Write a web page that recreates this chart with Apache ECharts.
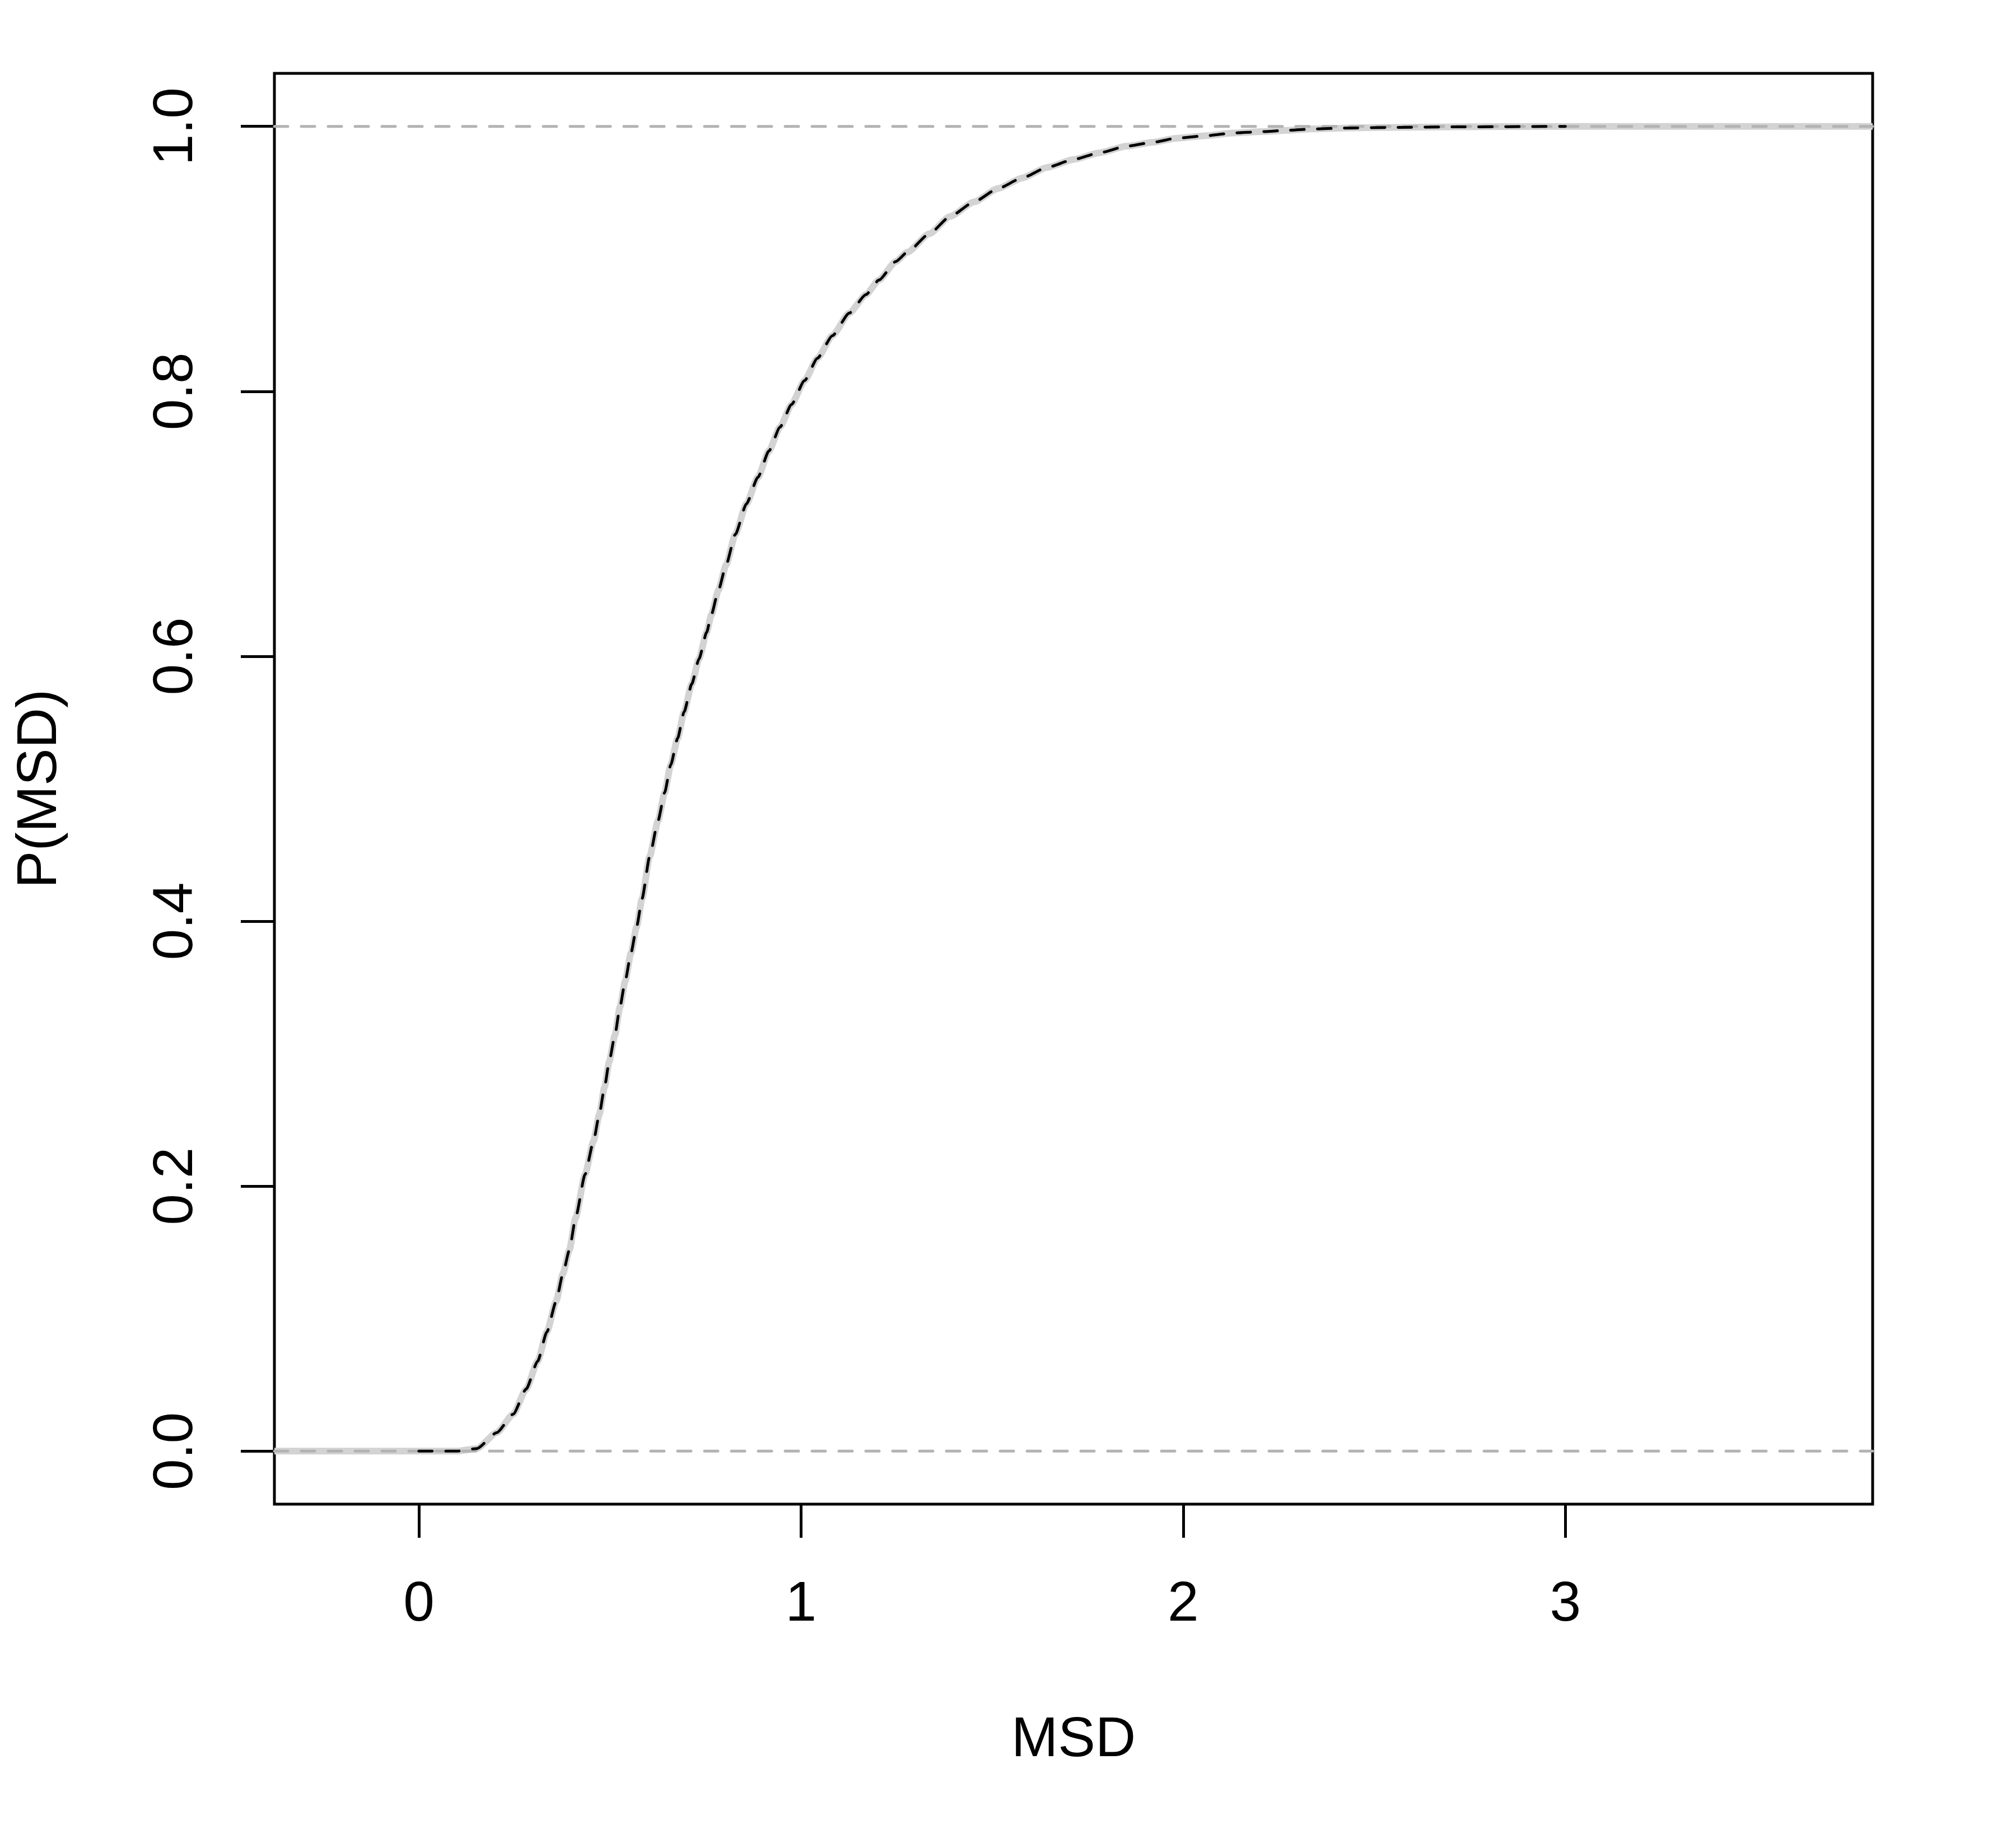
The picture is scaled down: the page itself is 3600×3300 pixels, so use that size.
<!DOCTYPE html>
<html>
<head>
<meta charset="utf-8">
<script src="https://cdn.jsdelivr.net/npm/echarts@6/dist/echarts.min.js"></script>
<style>
  html, body { margin: 0; padding: 0; background: #fff; }
  #chart { width: 3600px; height: 3300px; }
</style>
</head>
<body>
<div id="chart"></div>
<script>
// axis limits (R adds 4% each side)
const xMin = -0.378, xMax = 3.804;
const yMin = -0.04, yMax = 1.04;
const xTicks = [0, 1, 2, 3];
const yTicks = [0, 0.2, 0.4, 0.6, 0.8, 1.0];

// curve: MSD and P(MSD)
const msd = [0, 0.1, 0.152, 0.204, 0.247, 0.281, 0.311, 0.335, 0.359, 0.377, 0.394, 0.41, 0.435, 0.457, 0.472, 0.486,
  0.498, 0.513, 0.526, 0.54, 0.555, 0.57, 0.584, 0.604, 0.626, 0.643, 0.659, 0.677, 0.694, 0.714, 0.733, 0.753,
  0.765, 0.784, 0.804, 0.828, 0.857, 0.887, 0.916, 0.945, 0.975, 1.009, 1.043, 1.082, 1.126, 1.17, 1.204, 1.248,
  1.278, 1.336, 1.39, 1.453, 1.515, 1.578, 1.644, 1.713, 1.78, 1.852, 1.922, 1.981, 2.063, 2.13, 2.205, 2.272,
  2.34, 2.416, 2.55, 2.72, 3.0];
const prob = [0, 0, 0.002, 0.014, 0.028, 0.047, 0.068, 0.09, 0.113, 0.134, 0.152, 0.176, 0.209, 0.234, 0.254, 0.275,
  0.294, 0.314, 0.335, 0.355, 0.376, 0.396, 0.417, 0.449, 0.476, 0.497, 0.518, 0.538, 0.558, 0.579, 0.598, 0.618,
  0.631, 0.65, 0.669, 0.692, 0.715, 0.735, 0.755, 0.773, 0.79, 0.808, 0.825, 0.842, 0.859, 0.873, 0.884, 0.898,
  0.905, 0.919, 0.932, 0.943, 0.953, 0.961, 0.969, 0.975, 0.98, 0.985, 0.988, 0.991, 0.993, 0.995, 0.996, 0.997,
  0.998, 0.9987, 0.9992, 0.9996, 1.0];

const curve = msd.map((x, i) => [x, prob[i]]);
// empirical curve runs out to the plot edges
const ecdf = [[xMin, 0]].concat(curve, [[xMax, 1]]);

const font = '"Liberation Sans", Arial, sans-serif';
const chart = echarts.init(document.getElementById('chart'));

const dashed = (color) => ({ color: color, width: 5, type: [24, 24], cap: 'round' });

chart.setOption({
  animation: false,
  backgroundColor: '#fff',
  grid: {
    left: 490, right: 256, top: 131, bottom: 614,
    show: true, borderColor: '#000', borderWidth: 5, backgroundColor: 'transparent'
  },
  xAxis: {
    type: 'value', min: xMin, max: xMax,
    name: 'MSD', nameLocation: 'middle', nameGap: 372,
    nameTextStyle: { fontFamily: font, fontSize: 100, color: '#000' },
    axisLine: { show: false, onZero: false },
    splitLine: { show: false },
    axisTick: { show: true, length: 60, customValues: xTicks, lineStyle: { color: '#000', width: 5 } },
    axisLabel: { customValues: xTicks, margin: 130, fontFamily: font, fontSize: 100, color: '#000',
      formatter: v => String(v) }
  },
  yAxis: {
    type: 'value', min: yMin, max: yMax,
    name: 'P(MSD)', nameLocation: 'middle', nameGap: 368, nameRotate: 90,
    nameTextStyle: { fontFamily: font, fontSize: 100, color: '#000' },
    axisLine: { show: false, onZero: false },
    splitLine: { show: false },
    axisTick: { show: true, length: 60, customValues: yTicks, lineStyle: { color: '#000', width: 5 } },
    axisLabel: { customValues: yTicks, margin: 125, rotate: 90, fontFamily: font, fontSize: 100, color: '#000',
      formatter: v => v.toFixed(1) }
  },
  series: [
    {
      name: 'ecdf', type: 'line', data: ecdf, showSymbol: false, silent: true,
      smooth: 0.2, smoothMonotone: 'x',
      lineStyle: { color: '#d3d3d3', width: 12 }
    },
    {
      name: 'zero', type: 'line', data: [[xMin, 0], [xMax, 0]], showSymbol: false, silent: true,
      lineStyle: dashed('#b3b3b3')
    },
    {
      name: 'one', type: 'line', data: [[xMin, 1], [xMax, 1]], showSymbol: false, silent: true,
      lineStyle: dashed('#b3b3b3')
    },
    {
      name: 'theory', type: 'line', data: curve, showSymbol: false, silent: true,
      smooth: 0.2, smoothMonotone: 'x',
      lineStyle: dashed('#000')
    }
  ]
});
</script>
</body>
</html>
